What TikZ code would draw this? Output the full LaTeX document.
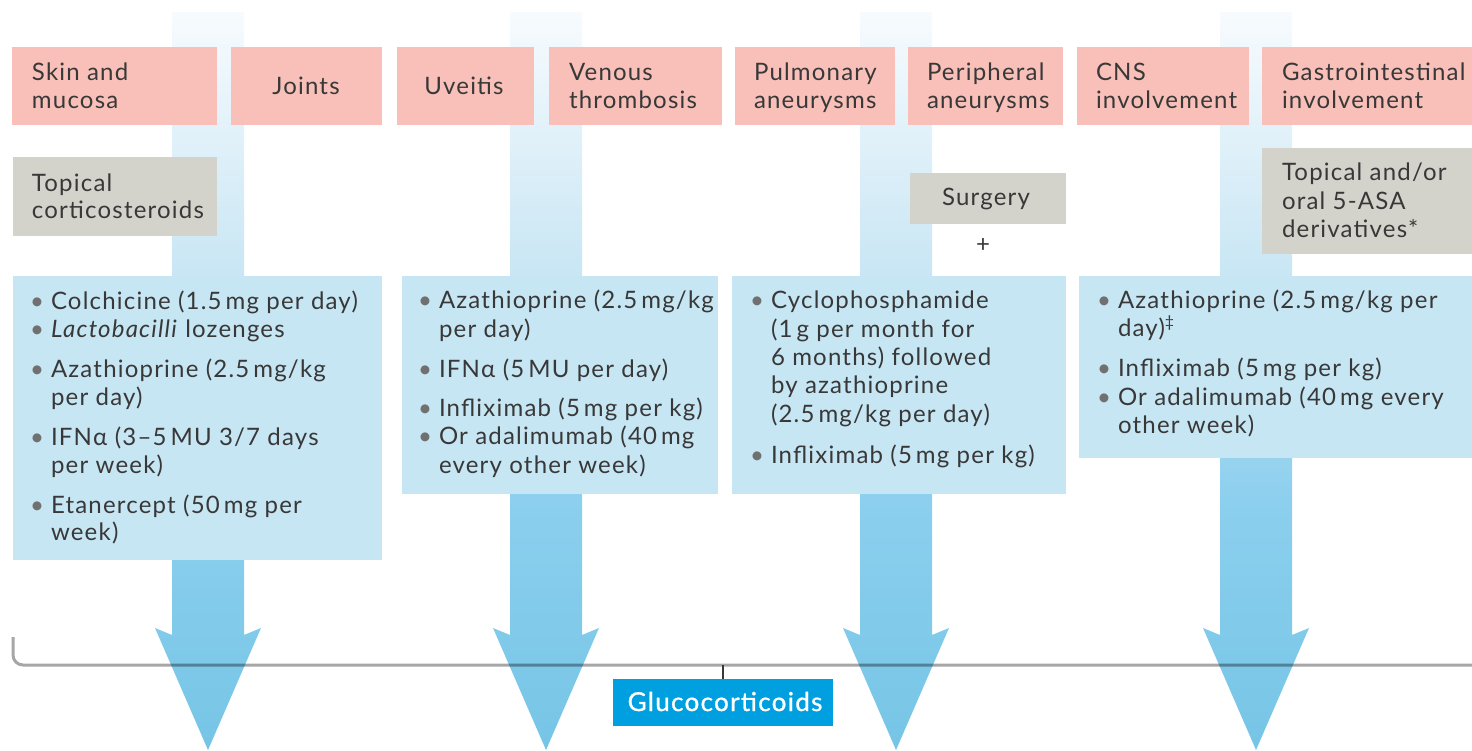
\documentclass[tikz,border=0pt]{standalone}
\usepackage{fontspec}
\setmainfont[LetterSpace=5]{Lato}
\definecolor{pinkc}{HTML}{F8C0B8}
\definecolor{grayc}{HTML}{D3D3CC}
\definecolor{bluec}{HTML}{C7E6F3}
\definecolor{glucoc}{HTML}{009FE0}
\definecolor{textc}{HTML}{383838}
\definecolor{bulc}{HTML}{707070}
\definecolor{ac1}{HTML}{F7FBFE}
\definecolor{ac2}{HTML}{C8E6F4}
\definecolor{ac3}{HTML}{8CCFEE}
\definecolor{ac4}{HTML}{76C5E6}
\pgfdeclareverticalshading{arrowshade}{100bp}{color(0bp)=(ac4); color(25bp)=(ac4); color(41.9bp)=(ac3); color(57.1bp)=(ac2); color(75bp)=(ac1); color(100bp)=(ac1)}
\newcommand\mainsz{\fontsize{12pt}{14pt}\selectfont}
\newcommand\bul{\llap{\textcolor{bulc}{\textbullet}\hspace{3.5pt}}}
\newcommand\mkbox[6]{\node[#2, minimum width={(#5-#3)*0.5pt}, minimum height={(#6-#4)*0.5pt}, anchor=north west, inner sep=0pt, outer sep=0pt] (#1) at (#3,#4) {};}
\newcommand\tline[4]{\node[txt] (#1) at (#2,#3) {#4};}
\newcommand\barrow[2]{\path[shading=arrowshade] (#2-36,12) -- (#2+36,12) -- (#2+36,635) -- (#2+53,628) -- (#2,750) -- (#2-53,628) -- (#2-36,635) -- cycle;}
\tikzset{
  pinkbox/.style={fill=pinkc},
  graybox/.style={fill=grayc},
  bluebox/.style={fill=bluec},
  txt/.style={inner sep=0pt, outer sep=0pt, anchor=base west, text=textc, font=\mainsz},
  ctxt/.style={txt, anchor=base},
}
\begin{document}
\begin{tikzpicture}[x=0.5pt,y=-0.5pt]
\useasboundingbox (0,0) rectangle (1472,750);
% arrows
\barrow{a1}{208}
\barrow{a2}{546}
\barrow{a3}{896}
\barrow{a4}{1256}
% header boxes
\mkbox{h1}{pinkbox}{12}{47}{217}{125}
\mkbox{h2}{pinkbox}{231}{47}{382}{125}
\mkbox{h3}{pinkbox}{397}{47}{534}{125}
\mkbox{h4}{pinkbox}{549}{47}{722}{125}
\mkbox{h5}{pinkbox}{735}{47}{895}{125}
\mkbox{h6}{pinkbox}{908}{47}{1063}{125}
\mkbox{h7}{pinkbox}{1077}{47}{1249}{125}
\mkbox{h8}{pinkbox}{1262}{47}{1480}{125}
\tline{h1a}{32}{80}{Skin and}
\tline{h1b}{32}{108}{mucosa}
\node[ctxt] (h2a) at (306,94) {Joints};
\node[ctxt] (h3a) at (464,94) {Uveitis};
\tline{h4a}{569}{80}{Venous}
\tline{h4b}{569}{108}{thrombosis}
\tline{h5a}{754}{80}{Pulmonary}
\tline{h5b}{754}{108}{aneurysms}
\tline{h6a}{927}{80}{Peripheral}
\tline{h6b}{927}{108}{aneurysms}
\tline{h7a}{1096}{80}{CNS}
\tline{h7b}{1096}{108}{involvement}
\tline{h8a}{1282}{80}{Gastrointestinal}
\tline{h8b}{1282}{108}{involvement}
% gray boxes
\mkbox{g1}{graybox}{13}{157}{217}{236}
\mkbox{g2}{graybox}{910}{173}{1066}{224}
\mkbox{g3}{graybox}{1262}{148}{1480}{254}
\tline{g1a}{32}{191}{Topical}
\tline{g1b}{32}{218}{corticosteroids}
\node[ctxt] (g2a) at (986,205) {Surgery};
\node[ctxt] (plus) at (983,252) {+};
\tline{g3a}{1282}{180}{Topical and/or}
\tline{g3b}{1282}{209}{oral 5-ASA}
\tline{g3c}{1282}{237}{derivatives*}
% blue boxes
\mkbox{b1}{bluebox}{13}{276}{382}{560}
\mkbox{b2}{bluebox}{402}{276}{718}{494}
\mkbox{b3}{bluebox}{732}{276}{1066}{494}
\mkbox{b4}{bluebox}{1079}{276}{1480}{458}
\tline{b1a}{51}{309}{\bul Colchicine (1.5\,mg per day)}
\tline{b1b}{51}{337}{\bul \textit{Lactobacilli} lozenges}
\tline{b1c}{51}{377}{\bul Azathioprine (2.5\,mg/kg}
\tline{b1d}{51}{405}{per day)}
\tline{b1e}{51}{445}{\bul IFNα (3–5\,MU 3/7 days}
\tline{b1f}{51}{473}{per week)}
\tline{b1g}{51}{513}{\bul Etanercept (50\,mg per}
\tline{b1h}{51}{540}{week)}
\tline{b2a}{439}{308}{\bul Azathioprine (2.5\,mg/kg}
\tline{b2b}{439}{337}{per day)}
\tline{b2c}{439}{377}{\bul IFNα (5\,MU per day)}
\tline{b2d}{439}{416}{\bul Infliximab (5\,mg per kg)}
\tline{b2e}{439}{444}{\bul Or adalimumab (40\,mg}
\tline{b2f}{439}{473}{every other week)}
\tline{b3a}{771}{308}{\bul Cyclophosphamide}
\tline{b3b}{771}{337}{(1\,g per month for}
\tline{b3c}{771}{365}{6 months) followed}
\tline{b3d}{771}{393}{by azathioprine}
\tline{b3e}{771}{422}{(2.5\,mg/kg per day)}
\tline{b3f}{771}{463}{\bul Infliximab (5\,mg per kg)}
\tline{b4a}{1118}{308}{\bul Azathioprine (2.5\,mg/kg per}
\tline{b4b}{1118}{336}{day)\textsuperscript{‡}}
\tline{b4c}{1118}{376}{\bul Infliximab (5\,mg per kg)}
\tline{b4d}{1118}{405}{\bul Or adalimumab (40\,mg every}
\tline{b4e}{1118}{433}{other week)}
% brace and glucocorticoids
\coordinate (bl) at (13,637);
\coordinate (br) at (1472,665);
\draw[black, opacity=0.35, line width=1.5pt, rounded corners=5pt] (bl) -- (13,665) -- (br);
\mkbox{gl}{fill=glucoc}{613}{679}{833}{726}
\node[ctxt, text=white, font=\fontsize{13pt}{15pt}\selectfont\addfontfeatures{FakeBold=1}] (gla) at (725,711) {Glucocorticoids};
\coordinate (bm) at (723,665);
\draw[textc, line width=1pt] (gl.north) -- (bm);
\end{tikzpicture}
\end{document}
